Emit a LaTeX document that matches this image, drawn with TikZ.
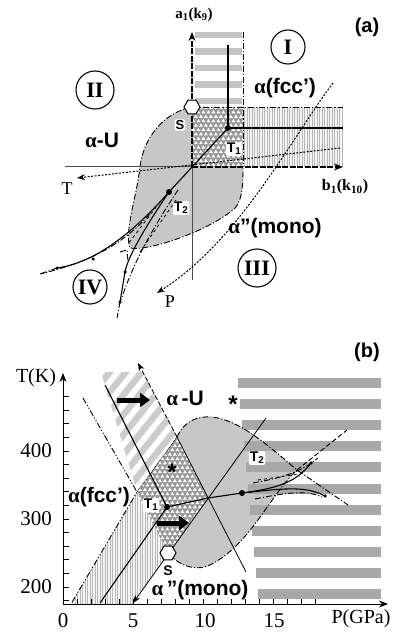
\documentclass[tikz,border=0pt]{standalone}
\usepackage{fontspec}
\setmainfont{Liberation Serif}
\setsansfont{Liberation Sans}
\usetikzlibrary{arrows.meta,shapes.geometric}
\definecolor{lens}{gray}{0.78}
\definecolor{barA}{gray}{0.77}
\definecolor{barB}{gray}{0.66}
\definecolor{hatchbg}{gray}{0.6}
\definecolor{vstripe}{gray}{0.72}
\definecolor{dstripe}{gray}{0.80}
\newcommand{\myTriFill}[4]{%
  \foreach \j in {0,...,#4} {\foreach \i in {0,...,#3} {%
    \fill[white] ({#1+\i*5+mod(\j,2)*2.5},{#2+\j*4.4}) -- ++(3.8,0) -- ++(-1.9,-3.3) -- cycle;}}}
\tikzset{
  ddot/.style={dash pattern=on 6pt off 2pt on 1.2pt off 2pt, line width=0.9pt},
  dddot/.style={dash pattern=on 6pt off 2pt on 1.2pt off 2pt on 1.2pt off 2pt, line width=0.9pt},
  dotarr/.style={dash pattern=on 2pt off 1.5pt, line width=1pt, -{Stealth[length=8pt,width=6pt]}},
  solidln/.style={line width=1.1pt},
  thinln/.style={line width=0.8pt},
  blk/.style={circle, fill=black, inner sep=0, minimum size=6pt},
  smalldot/.style={circle, fill=black, inner sep=0, minimum size=3.5pt},
  hexa/.style={regular polygon, regular polygon sides=6, draw, fill=white, line width=1pt, minimum size=16pt, inner sep=0},
  roman/.style={draw, circle, line width=1.1pt, inner sep=0, font=\bfseries\fontsize{22}{22}\selectfont},
  slab/.style={font=\sffamily\bfseries\fontsize{14}{14}\selectfont, fill=white, inner sep=1pt, rounded corners=2pt},
  phase/.style={font=\fontsize{21}{21}\selectfont, inner sep=0},
  serlab/.style={font=\fontsize{20}{20}\selectfont, inner sep=0},
  bigarr/.style={line width=5pt, -{Triangle[length=10pt,width=14pt]}},
  axb/.style={line width=0.8pt, -{Stealth[length=9pt,width=7pt]}},
}
\begin{document}
\begin{tikzpicture}[x=1pt,y=-1pt]
\useasboundingbox (0,0) rectangle (393,639);
% ================= panel (a) =================
\coordinate (O) at (192,167);
\coordinate (T1a) at (228,128);
\coordinate (T2a) at (169,192);
\coordinate (Sa) at (192,107);
% lens
\fill[lens] (Sa) .. controls (162,113) and (143,140) .. (140,167) .. controls (137,195) and (124,232) .. (130,248) .. controls (150,252) and (215,228) .. (236,207) .. controls (243,198) and (243,180) .. (243,167) -- (243,107) -- cycle;
% hatched
\begin{scope}
\clip (192,107) rectangle (243,167);
\fill[hatchbg] (192,107) rectangle (243,167);
\myTriFill{189}{109}{11}{14}
\end{scope}
% vertical stripes
\fill[gray!8] (243,107) rectangle (343,167);
\foreach \x in {244.5,247,...,342} \draw[vstripe, line width=0.9pt] (\x,107) -- (\x,167);
% bars
\foreach \k in {0,...,4} \fill[barA] (195,{32+16.5*\k}) rectangle (242,{38.5+16.5*\k});
% lens boundary and frame lines
\draw[ddot] (Sa) .. controls (162,113) and (143,140) .. (140,167) .. controls (137,195) and (124,232) .. (130,248) .. controls (150,252) and (215,228) .. (236,207) .. controls (243,198) and (243,180) .. (243,167);
\draw[ddot] (243,32) -- (243,167);
\draw[ddot] (Sa) -- (343,107);
% axes
\draw[line width=1pt, black!70] (65,167) -- (O);
\draw[line width=1pt, black!70] (192,280) -- (O);
\draw[line width=1.5pt, dash pattern=on 6pt off 1.5pt, -{Stealth[length=9pt,width=7pt]}] (O) -- (192,32);
\draw[line width=1.5pt, dash pattern=on 6pt off 1.5pt, -{Stealth[length=9pt,width=7pt]}] (O) -- (343,167);
% solid lines
\draw[solidln] (228,45) -- (T1a) -- (343,128);
\draw[solidln] (T1a) -- (T2a);
% dotted arrows
\draw[dotarr] (340,148) -- (77,178);
\draw[dotarr] (333,83) .. controls (290,140) and (240,240) .. (157,293);
% lower-left curves
\draw[solidln] (T2a) .. controls (140,225) and (100,262) .. (57,268);
\draw[ddot] (57,268) -- (40,274);
\draw[solidln] (T2a) .. controls (150,220) and (128,255) .. (125,272) -- (120,302);
\draw[ddot] (120,302) -- (117,318);
\draw[ddot] (150,214) .. controls (122,245) and (90,262) .. (40,274);
\draw[ddot] (178,190) .. controls (155,225) and (135,258) .. (121,300);
\draw[thinln, dashed] (176,200) -- (140,252);
\draw[thinln, dashed] (160,202) -- (128,244);
\draw[thinln, ddot] (120,252) -- (127,250) -- (128,262);
\node[smalldot] (d1) at (57,268) {};
\node[smalldot] (d2) at (93,259) {};
\node[smalldot] (d3) at (125,272) {};
\node[smalldot] (d4) at (120,302) {};
% points
\node[blk] (dT1a) at (T1a) {};
\node[blk] (dT2a) at (T2a) {};
\node[hexa] (hexA) at (Sa) {};
% labels (a)
\node[font=\sffamily\bfseries\fontsize{20}{20}\selectfont] (pa) at (367,27) {(a)};
\node[font=\bfseries\fontsize{15}{15}\selectfont] (a1) at (194,15) {a\textsubscript{1}(k\textsubscript{9})};
\node[font=\bfseries\fontsize{16}{16}\selectfont] (b1) at (345,187) {b\textsubscript{1}(k\textsubscript{10})};
\node[roman, minimum size=34pt] (nI) at (288,47) {I};
\node[roman, minimum size=38pt] (nII) at (95,90) {II};
\node[roman, minimum size=38pt] (nIII) at (257,268) {III};
\node[roman, minimum size=34pt] (nIV) at (90,287) {IV};
\node[phase] (afcc) at (285,88) {{\bfseries α}\textsf{\bfseries (fcc')}};
\node[phase] (aU) at (102,140) {{\bfseries α}\textsf{\bfseries -U}};
\node[phase] (amono) at (275,228) {{\bfseries α}\textsf{\bfseries "(mono)}};
\node[serlab, font=\fontsize{18}{18}\selectfont] (Tl) at (67,189) {T};
\node[serlab, font=\fontsize{18}{18}\selectfont] (Pl) at (170,302) {P};
\node[slab, font=\sffamily\bfseries\fontsize{13}{13}\selectfont] (Sla) at (180,125) {S};
\node[slab] (T1la) at (234,149) {T\textsubscript{1}};
\node[slab] (T2la) at (181,208) {T\textsubscript{2}};
% ================= panel (b) =================
\coordinate (A) at (177,437);
\coordinate (X) at (208,498);
\coordinate (S) at (168,553);
\coordinate (B) at (137,492);
\coordinate (T1) at (167,507);
\coordinate (P2) at (242,493);
\coordinate (C) at (297,470);
% lens
\fill[lens] (A) .. controls (185,420) and (198,416) .. (212,417) .. controls (240,420) and (270,447) .. (C) .. controls (270,495) and (250,545) .. (210,565) .. controls (195,572) and (178,565) .. (S) -- (X) -- cycle;
% bars
\foreach \k in {0,...,10} \fill[barB] ({238+2*\k},{378+21.1*\k}) rectangle (381,{388+21.1*\k});
% vertical stripes
\begin{scope}
\clip (B) -- (S) -- (133,604) -- (71,604) -- cycle;
\fill[gray!8] (60,480) rectangle (180,604);
\foreach \x in {70,72.5,...,172} \draw[vstripe, line width=0.9pt] (\x,480) -- (\x,604);
\end{scope}
% diagonal stripes
\begin{scope}
\clip (101,372) -- (143,372) -- (A) -- (B) -- cycle;
\foreach \k in {0,...,13} \draw[dstripe, line width=6.5pt] ({-25+16*\k},520) -- ++(130,-162);
\end{scope}
% hatched parallelogram
\begin{scope}
\clip (A) -- (X) -- (S) -- (B) -- cycle;
\fill[hatchbg] (130,430) rectangle (215,560);
\myTriFill{133}{438}{16}{27}
\end{scope}
% boundaries
\draw[ddot] (A) .. controls (185,420) and (198,416) .. (212,417) .. controls (240,420) and (270,447) .. (C) -- (348,505);
\draw[ddot] (S) .. controls (178,565) and (195,572) .. (210,565) .. controls (250,545) and (270,495) .. (C);
\draw[line width=0.9pt, dash pattern=on 5pt off 2.5pt] (C) -- (347,430);
\draw[dddot] (83,398) -- (B) -- (71,604);
\draw[thinln, densely dotted] (A) -- (B);
% lines
\draw[thinln] (246,572) -- (A);
\draw[thinln, dash pattern=on 5pt off 2pt, -{Stealth[length=8pt,width=6pt]}] (A) -- (138,363);
\draw[thinln, -{Stealth[length=8pt,width=6pt]}] (266,418) -- (133,603);
\draw[solidln] (105,385) -- (T1) -- (100,603);
\draw[solidln] (T1) -- (X) -- (P2);
\draw[solidln] (P2) .. controls (270,489) and (295,485) .. (311,463);
\draw[solidln] (P2) .. controls (280,489) and (305,485) .. (325,496);
\draw[ddot] (253,483) .. controls (280,478) and (300,473) .. (318,458);
\draw[ddot] (255,499) .. controls (280,494) and (305,489) .. (322,497);
\draw[thinln, dashed] (258,480) -- (300,474);
\node[smalldot] (e1) at (311,463) {};
\node[smalldot] (e2) at (325,496) {};
\node[blk] (dT1) at (T1) {};
\node[blk] (dP2) at (P2) {};
\node[hexa] (hexB) at (S) {};
% big arrows
\draw[bigarr] (117,400) -- (150,400);
\draw[bigarr] (157,523) -- (189,523);
% axes
\draw[axb] (63,604) -- (63,373);
\draw[axb] (63,604) -- (388,604);
\foreach \t in {180,200,...,480} \draw[line width=0.7pt] (63,{519-(\t-300)*0.68}) -- ++(6,0);
\foreach \p in {1,...,18} \draw[line width=0.7pt] ({63+\p*14},604) -- ++(0,-5);
% labels (b)
\node[font=\sffamily\bfseries\fontsize{20}{20}\selectfont] (pb) at (367,352) {(b)};
\node[serlab] (TK) at (36,378) {T(K)};
\node[serlab, font=\fontsize{21}{21}\selectfont] (y400) at (36,451) {400};
\node[serlab, font=\fontsize{21}{21}\selectfont] (y300) at (36,519) {300};
\node[serlab, font=\fontsize{21}{21}\selectfont] (y200) at (36,587) {200};
\node[serlab, font=\fontsize{21}{21}\selectfont] (x0) at (63,621) {0};
\node[serlab, font=\fontsize{21}{21}\selectfont] (x5) at (133,621) {5};
\node[serlab, font=\fontsize{21}{21}\selectfont] (x10) at (205,621) {10};
\node[serlab, font=\fontsize{21}{21}\selectfont] (x15) at (274,621) {15};
\node[serlab] (PG) at (361,619) {P(GPa)};
\node[phase] (bU) at (185,398) {{\bfseries α}\,\textsf{\bfseries -U}};
\node[phase] (bfcc) at (99,497) {{\bfseries α}\textsf{\bfseries (fcc')}};
\node[phase] (bmono) at (200,590) {{\bfseries α}\,\textsf{\bfseries "(mono)}};
\node[font=\sffamily\bfseries\fontsize{24}{24}\selectfont, inner sep=0] (st1) at (233,404) {*};
\node[font=\sffamily\bfseries\fontsize{24}{24}\selectfont, inner sep=0] (st2) at (172,472) {*};
\node[slab] (T1l) at (151,505) {T\textsubscript{1}};
\node[slab] (T2l) at (257,458) {T\textsubscript{2}};
\node[font=\sffamily\bfseries\fontsize{14}{14}\selectfont, fill=white, inner sep=1pt] (Slb) at (168,571) {S};
\end{tikzpicture}
\end{document}
